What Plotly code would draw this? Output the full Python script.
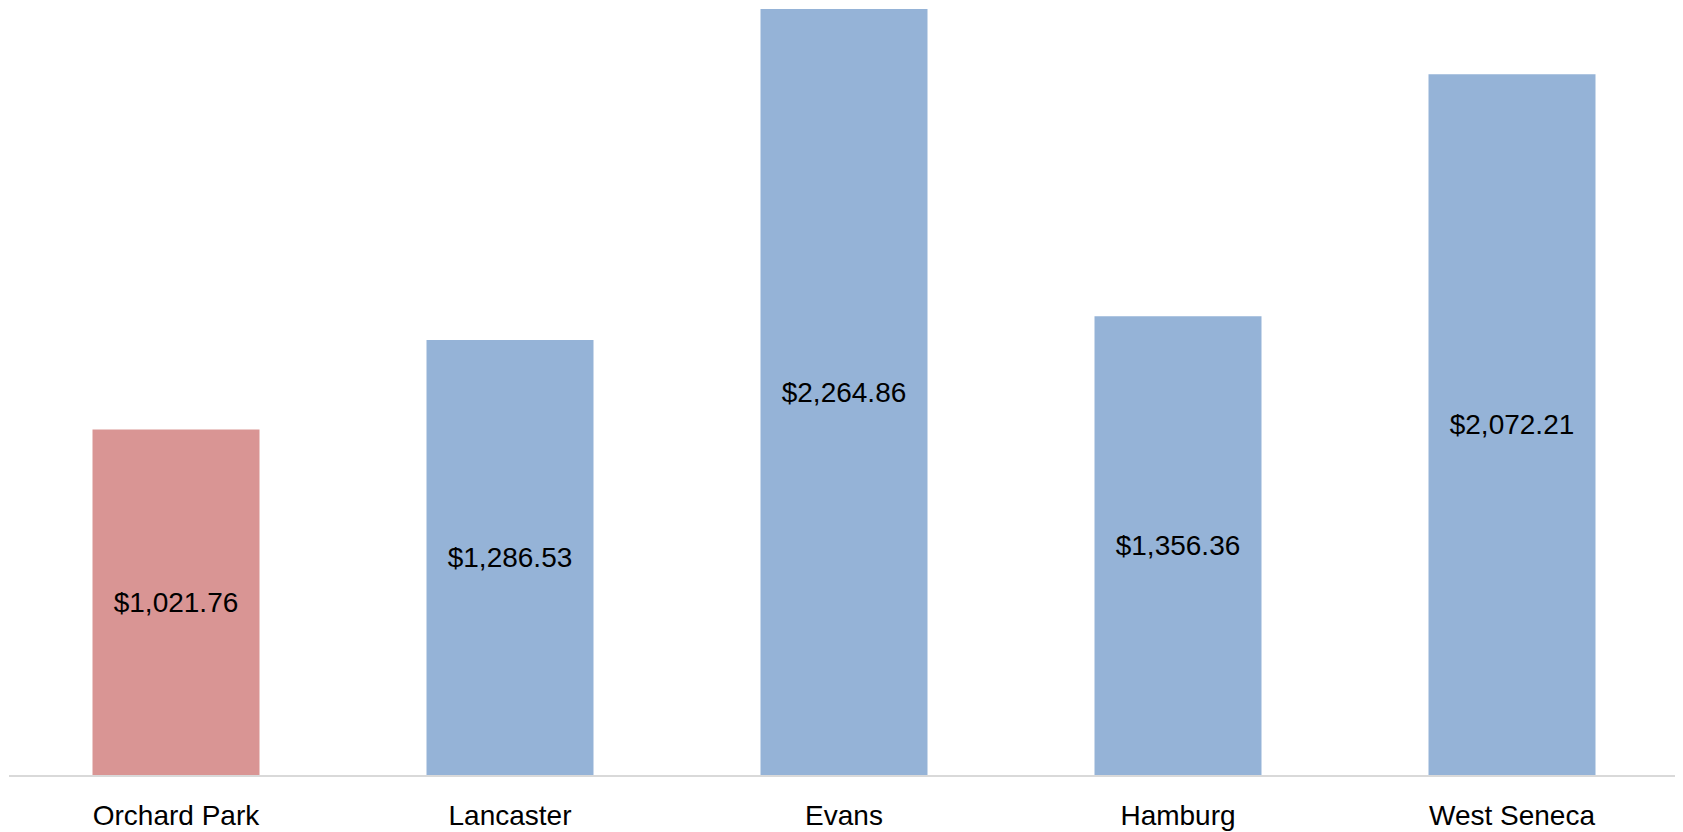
import plotly.graph_objects as go

towns = ["Orchard Park", "Lancaster", "Evans", "Hamburg", "West Seneca"]
values = [1021.76, 1286.53, 2264.86, 1356.36, 2072.21]
colors = ["#D99594", "#95B3D7", "#95B3D7", "#95B3D7", "#95B3D7"]
labels = ["${:,.2f}".format(v) for v in values]

fig = go.Figure(go.Bar(
    x=towns, y=values, marker=dict(color=colors, line=dict(width=0)),
    text=labels, textposition="inside", insidetextanchor="middle",
    textangle=0,
    textfont=dict(family="Liberation Sans", size=28, color="black"),
    hoverinfo="skip",
))

fig.update_layout(
    width=1683, height=832,
    margin=dict(l=1, r=12, t=0, b=65, autoexpand=False),
    paper_bgcolor="white", plot_bgcolor="white",
    bargap=0.5, showlegend=False,
    uniformtext=dict(mode=False),
    font=dict(family="Liberation Sans", size=28, color="black"),
)
fig.update_xaxes(showline=True, linecolor="#D9D9D9", linewidth=2,
                 ticks="", showgrid=False, tickfont=dict(size=28, color="black"),
                 ticklabelstandoff=14, automargin=False)
fig.update_yaxes(range=[0, 2268], visible=False, showgrid=False)

fig.write_html("out.html")
